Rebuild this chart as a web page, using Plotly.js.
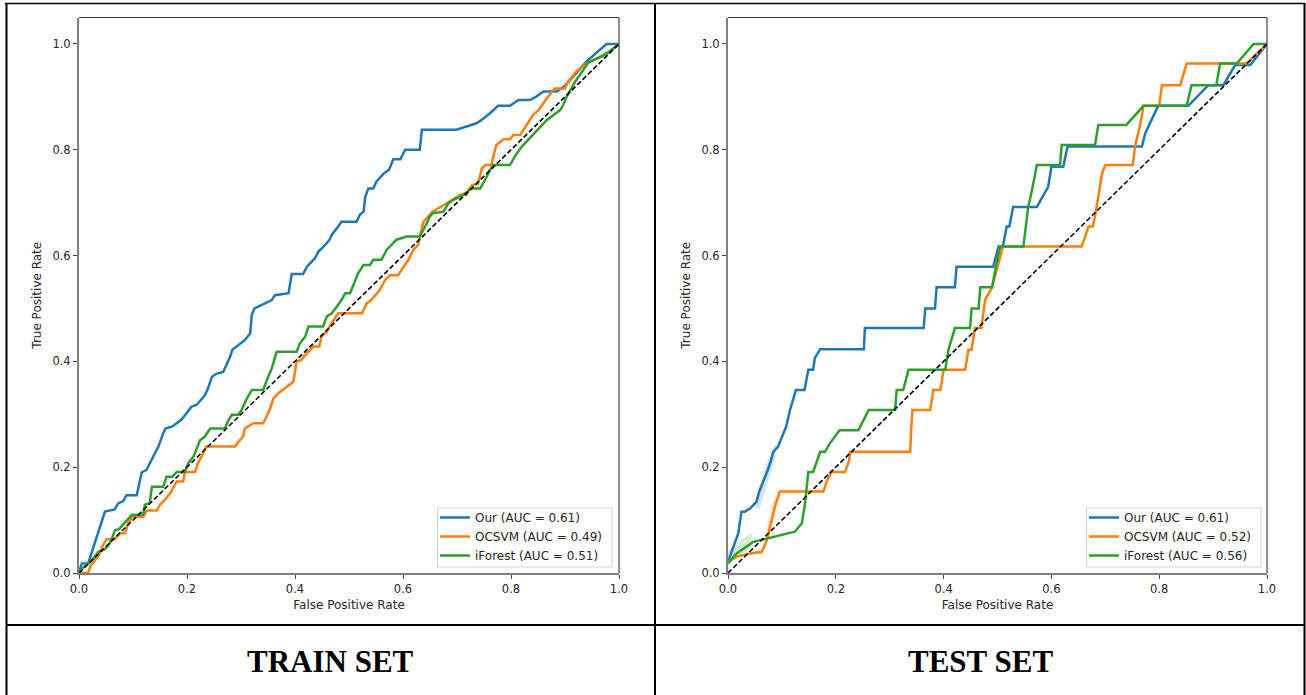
<!DOCTYPE html>
<html>
<head>
<meta charset="utf-8">
<script src="https://cdn.plot.ly/plotly-3.0.1.min.js"></script>
<style>
  html, body { margin: 0; padding: 0; background: #ffffff; }
  #chart { width: 1306px; height: 695px; }
</style>
</head>
<body>
<div id="chart"></div>
<script>
// ---------- data ----------
const methodNames = ['Our', 'OCSVM', 'iForest'];
const trainAuc = [0.61, 0.49, 0.51];
const testAuc = [0.61, 0.52, 0.56];
const panelCaptions = ['TRAIN SET', 'TEST SET'];
const tickVals = [0, 0.2, 0.4, 0.6, 0.8, 1.0];
const tickLabels = ['0.0', '0.2', '0.4', '0.6', '0.8', '1.0'];
const chanceLine = [0, 1];

// TRAIN SET
const trainOurFpr = [0, 0.005, 0.017, 0.023, 0.033, 0.039, 0.048, 0.066, 0.073, 0.082, 0.088, 0.107, 0.116, 0.125, 0.131, 0.141, 0.147, 0.156, 0.16, 0.173, 0.181, 0.19, 0.199, 0.208, 0.218, 0.227, 0.233, 0.239, 0.246, 0.255, 0.267, 0.273, 0.28, 0.284, 0.295, 0.307, 0.317, 0.32, 0.325, 0.347, 0.357, 0.363, 0.388, 0.394, 0.415, 0.422, 0.437, 0.443, 0.456, 0.464, 0.468, 0.48, 0.486, 0.514, 0.52, 0.527, 0.53, 0.536, 0.545, 0.551, 0.564, 0.574, 0.582, 0.595, 0.604, 0.631, 0.635, 0.699, 0.718, 0.736, 0.745, 0.761, 0.776, 0.798, 0.814, 0.835, 0.846, 0.86, 0.885, 0.9, 0.94, 0.977, 1.0];
const trainOurTpr = [0, 0.018, 0.018, 0.037, 0.066, 0.084, 0.116, 0.12, 0.132, 0.136, 0.147, 0.147, 0.19, 0.195, 0.207, 0.226, 0.239, 0.264, 0.273, 0.277, 0.283, 0.29, 0.302, 0.314, 0.318, 0.33, 0.336, 0.349, 0.371, 0.377, 0.38, 0.393, 0.409, 0.422, 0.431, 0.44, 0.453, 0.488, 0.5, 0.51, 0.516, 0.525, 0.529, 0.565, 0.565, 0.579, 0.595, 0.607, 0.62, 0.63, 0.639, 0.655, 0.664, 0.664, 0.677, 0.683, 0.711, 0.727, 0.727, 0.74, 0.755, 0.762, 0.782, 0.782, 0.8, 0.8, 0.838, 0.838, 0.844, 0.85, 0.856, 0.869, 0.883, 0.883, 0.894, 0.894, 0.9, 0.91, 0.91, 0.921, 0.967, 1.0, 1.0];

const trainOcsvmFpr = [0, 0.017, 0.021, 0.033, 0.037, 0.043, 0.051, 0.066, 0.076, 0.085, 0.091, 0.098, 0.119, 0.125, 0.144, 0.15, 0.159, 0.169, 0.175, 0.181, 0.193, 0.196, 0.215, 0.22, 0.227, 0.236, 0.289, 0.295, 0.304, 0.307, 0.323, 0.341, 0.347, 0.354, 0.36, 0.369, 0.385, 0.397, 0.403, 0.411, 0.419, 0.424, 0.434, 0.445, 0.449, 0.459, 0.462, 0.48, 0.524, 0.533, 0.54, 0.557, 0.567, 0.576, 0.591, 0.601, 0.61, 0.619, 0.628, 0.631, 0.638, 0.647, 0.655, 0.681, 0.694, 0.706, 0.718, 0.721, 0.728, 0.739, 0.746, 0.753, 0.764, 0.767, 0.773, 0.786, 0.798, 0.804, 0.817, 0.829, 0.841, 0.851, 0.866, 0.881, 0.9, 0.906, 0.921, 0.94, 0.965, 0.983, 1.0];
const trainOcsvmTpr = [0, 0, 0.013, 0.028, 0.034, 0.05, 0.064, 0.064, 0.075, 0.075, 0.094, 0.106, 0.106, 0.118, 0.118, 0.129, 0.138, 0.151, 0.163, 0.173, 0.173, 0.191, 0.191, 0.207, 0.22, 0.239, 0.239, 0.248, 0.258, 0.273, 0.283, 0.283, 0.295, 0.311, 0.33, 0.34, 0.352, 0.362, 0.4, 0.402, 0.412, 0.418, 0.428, 0.428, 0.447, 0.456, 0.463, 0.491, 0.491, 0.51, 0.515, 0.535, 0.554, 0.563, 0.563, 0.579, 0.592, 0.611, 0.62, 0.636, 0.664, 0.674, 0.683, 0.699, 0.708, 0.715, 0.715, 0.724, 0.733, 0.736, 0.765, 0.771, 0.771, 0.787, 0.809, 0.82, 0.82, 0.828, 0.828, 0.847, 0.866, 0.875, 0.897, 0.916, 0.916, 0.929, 0.948, 0.963, 0.976, 0.986, 1.0];

const trainIforestFpr = [0, 0.005, 0.017, 0.027, 0.036, 0.048, 0.057, 0.067, 0.074, 0.085, 0.098, 0.119, 0.122, 0.131, 0.135, 0.156, 0.162, 0.173, 0.181, 0.196, 0.202, 0.212, 0.224, 0.233, 0.243, 0.27, 0.277, 0.283, 0.295, 0.301, 0.311, 0.32, 0.341, 0.348, 0.357, 0.366, 0.403, 0.409, 0.419, 0.425, 0.452, 0.459, 0.468, 0.477, 0.486, 0.493, 0.502, 0.508, 0.517, 0.527, 0.539, 0.545, 0.56, 0.57, 0.588, 0.607, 0.631, 0.641, 0.65, 0.655, 0.675, 0.684, 0.694, 0.706, 0.718, 0.727, 0.743, 0.752, 0.761, 0.767, 0.798, 0.807, 0.82, 0.832, 0.848, 0.866, 0.891, 0.897, 0.903, 0.919, 0.934, 0.943, 0.968, 0.98, 1.0];
const trainIforestTpr = [0, 0.008, 0.018, 0.028, 0.04, 0.045, 0.056, 0.081, 0.083, 0.095, 0.11, 0.11, 0.129, 0.132, 0.163, 0.163, 0.182, 0.182, 0.191, 0.191, 0.207, 0.22, 0.251, 0.258, 0.273, 0.273, 0.289, 0.299, 0.299, 0.308, 0.33, 0.346, 0.346, 0.365, 0.387, 0.418, 0.418, 0.434, 0.447, 0.466, 0.466, 0.485, 0.491, 0.503, 0.516, 0.529, 0.529, 0.544, 0.567, 0.582, 0.582, 0.592, 0.592, 0.611, 0.63, 0.636, 0.636, 0.655, 0.674, 0.68, 0.683, 0.699, 0.706, 0.711, 0.721, 0.727, 0.727, 0.743, 0.762, 0.771, 0.771, 0.787, 0.806, 0.819, 0.837, 0.856, 0.875, 0.885, 0.9, 0.929, 0.951, 0.965, 0.976, 0.984, 1.0];

// TEST SET
const testOurFpr = [0, 0.01, 0.019, 0.025, 0.031, 0.041, 0.053, 0.058, 0.067, 0.074, 0.08, 0.084, 0.093, 0.103, 0.108, 0.115, 0.126, 0.142, 0.149, 0.158, 0.161, 0.171, 0.252, 0.254, 0.363, 0.366, 0.384, 0.387, 0.421, 0.424, 0.492, 0.502, 0.51, 0.517, 0.522, 0.529, 0.573, 0.594, 0.6, 0.622, 0.63, 0.768, 0.774, 0.798, 0.854, 0.891, 0.919, 0.941, 0.969, 1.0];
const testOurTpr = [0.021, 0.05, 0.075, 0.116, 0.116, 0.122, 0.135, 0.154, 0.176, 0.195, 0.214, 0.229, 0.239, 0.264, 0.277, 0.308, 0.346, 0.346, 0.384, 0.384, 0.406, 0.423, 0.423, 0.463, 0.463, 0.5, 0.5, 0.54, 0.54, 0.579, 0.579, 0.617, 0.617, 0.655, 0.655, 0.692, 0.692, 0.73, 0.768, 0.768, 0.806, 0.806, 0.831, 0.883, 0.883, 0.922, 0.922, 0.96, 0.96, 1.0];

const testOcsvmFpr = [0, 0.016, 0.041, 0.063, 0.072, 0.087, 0.096, 0.177, 0.183, 0.192, 0.217, 0.224, 0.227, 0.338, 0.34, 0.342, 0.375, 0.381, 0.394, 0.4, 0.44, 0.446, 0.452, 0.458, 0.47, 0.477, 0.49, 0.5, 0.51, 0.656, 0.669, 0.677, 0.682, 0.694, 0.7, 0.751, 0.755, 0.764, 0.771, 0.8, 0.805, 0.839, 0.851, 0.962, 1.0];
const testOcsvmTpr = [0.021, 0.031, 0.037, 0.04, 0.062, 0.125, 0.154, 0.154, 0.173, 0.191, 0.191, 0.21, 0.229, 0.229, 0.273, 0.308, 0.308, 0.346, 0.346, 0.384, 0.384, 0.422, 0.422, 0.463, 0.463, 0.516, 0.54, 0.579, 0.617, 0.617, 0.655, 0.655, 0.68, 0.755, 0.771, 0.771, 0.806, 0.844, 0.883, 0.883, 0.922, 0.922, 0.963, 0.963, 1.0];

const testIforestFpr = [0, 0.016, 0.047, 0.124, 0.137, 0.143, 0.149, 0.158, 0.171, 0.18, 0.189, 0.207, 0.242, 0.261, 0.31, 0.313, 0.325, 0.335, 0.403, 0.409, 0.421, 0.449, 0.452, 0.465, 0.468, 0.49, 0.497, 0.505, 0.548, 0.557, 0.564, 0.573, 0.616, 0.619, 0.681, 0.687, 0.739, 0.771, 0.851, 0.86, 0.906, 0.913, 0.944, 0.975, 1.0];
const testIforestTpr = [0.018, 0.037, 0.059, 0.078, 0.094, 0.132, 0.191, 0.191, 0.229, 0.229, 0.245, 0.27, 0.27, 0.308, 0.308, 0.346, 0.346, 0.384, 0.384, 0.422, 0.463, 0.463, 0.5, 0.5, 0.54, 0.54, 0.579, 0.617, 0.617, 0.692, 0.724, 0.771, 0.771, 0.809, 0.809, 0.847, 0.847, 0.883, 0.883, 0.922, 0.922, 0.963, 0.963, 1.0, 1.0];

// faint variability bands visible on the TEST SET curves
const testOurBandFpr = [0.05, 0.058, 0.071, 0.084, 0.09];
const testOurBandUpper = [0.135, 0.165, 0.205, 0.236, 0.245];
const testOurBandLower = [0.125, 0.12, 0.16, 0.205, 0.235];
const testOcsvmBandFpr = [0.07, 0.08, 0.092];
const testOcsvmBandUpper = [0.08, 0.125, 0.16];
const testOcsvmBandLower = [0.05, 0.085, 0.145];
const testIforestBandFpr = [0, 0.022, 0.044];
const testIforestBandUpper = [0.04, 0.062, 0.076];
const testIforestBandLower = [0.02, 0.031, 0.05];

// ---------- styling ----------
const colors = ['#1f77b4', '#ff7f0e', '#2ca02c'];
const bandColors = ['rgba(31,119,180,0.2)', 'rgba(255,127,14,0.2)', 'rgba(44,160,44,0.2)'];
const W = 1306, H = 695;
const px = v => v / W;          // pixel -> paper x
const py = v => 1 - v / H;      // pixel -> paper y

function curve(x, y, i, auc, xa, ya, lg) {
  return {
    type: 'scatter', mode: 'lines', x: x, y: y,
    name: methodNames[i] + ' (AUC = ' + auc[i].toFixed(2) + ')',
    line: { color: colors[i], width: 2.5 },
    xaxis: xa, yaxis: ya, legend: lg, hoverinfo: 'skip'
  };
}
function band(x, upper, lower, i, xa, ya) {
  return {
    type: 'scatter', mode: 'lines',
    x: x.concat(x.slice().reverse()),
    y: upper.concat(lower.slice().reverse()),
    fill: 'toself', fillcolor: bandColors[i], line: { width: 0, color: bandColors[i] },
    xaxis: xa, yaxis: ya, showlegend: false, hoverinfo: 'skip'
  };
}
function diag(xa, ya) {
  return {
    type: 'scatter', mode: 'lines', x: chanceLine, y: chanceLine,
    line: { color: '#000000', width: 1.6, dash: '5px,2.5px' },
    xaxis: xa, yaxis: ya, showlegend: false, hoverinfo: 'skip'
  };
}

const data = [
  curve(trainOurFpr, trainOurTpr, 0, trainAuc, 'x', 'y', 'legend'),
  curve(trainOcsvmFpr, trainOcsvmTpr, 1, trainAuc, 'x', 'y', 'legend'),
  curve(trainIforestFpr, trainIforestTpr, 2, trainAuc, 'x', 'y', 'legend'),
  diag('x', 'y'),
  band(testOurBandFpr, testOurBandUpper, testOurBandLower, 0, 'x2', 'y2'),
  band(testOcsvmBandFpr, testOcsvmBandUpper, testOcsvmBandLower, 1, 'x2', 'y2'),
  band(testIforestBandFpr, testIforestBandUpper, testIforestBandLower, 2, 'x2', 'y2'),
  curve(testOurFpr, testOurTpr, 0, testAuc, 'x2', 'y2', 'legend2'),
  curve(testOcsvmFpr, testOcsvmTpr, 1, testAuc, 'x2', 'y2', 'legend2'),
  curve(testIforestFpr, testIforestTpr, 2, testAuc, 'x2', 'y2', 'legend2'),
  diag('x2', 'y2')
];

const tickFont = { family: 'DejaVu Sans', size: 11.5, color: '#262626' };
const titleFont = { family: 'DejaVu Sans', size: 12, color: '#262626' };

function xAxis(domain, anchor) {
  return {
    domain: domain, anchor: anchor, range: [0, 1], fixedrange: true,
    showgrid: false, zeroline: false,
    showline: true, linecolor: '#808080', linewidth: 2, mirror: false,
    ticks: 'outside', ticklen: 4, tickwidth: 1, tickcolor: '#444',
    tickvals: tickVals, ticktext: tickLabels, tickfont: tickFont,
    title: { text: 'False Positive Rate', font: titleFont, standoff: 6 },
    automargin: false
  };
}
function yAxis(anchor) {
  return {
    domain: [py(573), py(17.5)], anchor: anchor, range: [0, 1.05], fixedrange: true,
    showgrid: false, zeroline: false,
    showline: true, linecolor: '#808080', linewidth: 2, mirror: false,
    ticks: 'outside', ticklen: 4, tickwidth: 1, tickcolor: '#444',
    tickvals: tickVals, ticktext: tickLabels, tickfont: tickFont,
    title: { text: 'True Positive Rate', font: titleFont, standoff: 8 },
    automargin: false
  };
}

function spineShapes(xr, yr) {
  return [
    { type: 'line', xref: xr + ' domain', yref: yr + ' domain', x0: 0, x1: 1, y0: 1, y1: 1,
      line: { color: '#444444', width: 1 } },
    { type: 'line', xref: xr + ' domain', yref: yr + ' domain', x0: 1, x1: 1, y0: 0, y1: 1,
      line: { color: '#444444', width: 1.2 } }
  ];
}
// legend frames (white, slightly translucent, light grey border) drawn over the curves
function legendFrame(left, right) {
  return { type: 'rect', xref: 'paper', yref: 'paper', layer: 'above',
    x0: px(left), x1: px(right), y0: py(567), y1: py(508),
    fillcolor: 'rgba(255,255,255,0.85)', line: { color: '#d3d3d3', width: 1 } };
}
const frameLine = { color: '#000000', width: 2 };
const frameShapes = [
  { type: 'line', xref: 'paper', yref: 'paper', x0: px(5), x1: px(1305), y0: py(3.5), y1: py(3.5), line: { color: '#000', width: 1.6 } },
  { type: 'line', xref: 'paper', yref: 'paper', x0: px(6.5), x1: px(6.5), y0: py(3), y1: 0, line: frameLine },
  { type: 'line', xref: 'paper', yref: 'paper', x0: px(655), x1: px(655), y0: py(3), y1: 0, line: frameLine },
  { type: 'line', xref: 'paper', yref: 'paper', x0: px(1304.5), x1: px(1304.5), y0: py(3), y1: 0, line: frameLine },
  { type: 'line', xref: 'paper', yref: 'paper', x0: px(6), x1: px(1305), y0: py(625), y1: py(625), line: frameLine }
];

function legendBox(left) {
  return {
    x: px(left), y: py(503), xanchor: 'left', yanchor: 'top',
    bgcolor: 'rgba(0,0,0,0)', borderwidth: 0,
    font: { family: 'DejaVu Sans', size: 12, color: '#262626' },
    tracegroupgap: 0, itemclick: false, itemdoubleclick: false
  };
}

const captionFont = { family: 'Liberation Serif', size: 31, color: '#000000', weight: 'bold' };

const layout = {
  width: W, height: H,
  margin: { l: 0, r: 0, t: 0, b: 0, pad: 0 },
  paper_bgcolor: '#ffffff', plot_bgcolor: '#ffffff',
  xaxis: xAxis([px(79), px(619)], 'y'),
  yaxis: yAxis('x'),
  xaxis2: xAxis([px(728), px(1267)], 'y2'),
  yaxis2: yAxis('x2'),
  showlegend: true,
  legend: legendBox(435),
  legend2: legendBox(1084),
  shapes: spineShapes('x', 'y').concat(spineShapes('x2', 'y2'))
    .concat([legendFrame(437.5, 612), legendFrame(1086.5, 1261)])
    .concat(frameShapes),
  annotations: [
    { xref: 'paper', yref: 'paper', x: px(330), y: py(661), xanchor: 'center', yanchor: 'middle',
      text: panelCaptions[0], showarrow: false, font: captionFont },
    { xref: 'paper', yref: 'paper', x: px(980), y: py(661), xanchor: 'center', yanchor: 'middle',
      text: panelCaptions[1], showarrow: false, font: captionFont }
  ]
};

Plotly.newPlot('chart', data, layout, { staticPlot: true, displayModeBar: false });
</script>
</body>
</html>
